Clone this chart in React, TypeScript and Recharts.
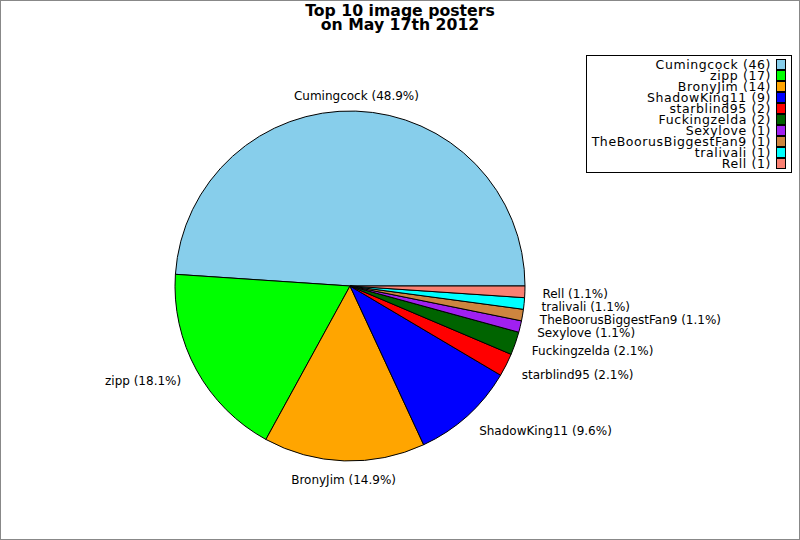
import React from 'react';
import { PieChart, Pie, Cell, Legend } from 'recharts';

const names = ['Cumingcock', 'zipp', 'BronyJim', 'ShadowKing11', 'starblind95', 'Fuckingzelda', 'Sexylove', 'TheBoorusBiggestFan9', 'tralivali', 'Rell'];
const counts = [46, 17, 14, 9, 2, 2, 1, 1, 1, 1];
const colors = ['#87CEEB', '#00FF00', '#FFA500', '#0000FF', '#FF0000', '#006400', '#A020F0', '#CD853F', '#00FFFF', '#FA8072'];
const titleLines = ['Top 10 image posters', 'on May 17th 2012'];

const total = counts.reduce((a, b) => a + b, 0);
const data = names.map((n, i) => ({ name: n, value: counts[i], color: colors[i] }));

const FONT = '"DejaVu Sans", sans-serif';
const RAD = Math.PI / 180;

const renderLabel = (props: any) => {
  const { cx, cy, midAngle, outerRadius, name, value } = props;
  const r = outerRadius * 1.1;
  const c = Math.cos(-midAngle * RAD);
  const s = Math.sin(-midAngle * RAD);
  const x = cx + r * c;
  const y = cy + r * s;
  const anchor = Math.abs(c) < 0.15 ? 'middle' : c > 0 ? 'start' : 'end';
  const pct = ((value / total) * 100).toFixed(1);
  return (
    <text x={x} y={y + 2} textAnchor={anchor} dominantBaseline="central" fontFamily={FONT} fontSize={12} fill="#000">
      {`${name} (${pct}%)`}
    </text>
  );
};

const LegendBox = () => (
  <div style={{ border: '1px solid #000', background: '#fff', width: 206, height: 118, boxSizing: 'border-box', padding: '3px 5px 0 0', fontFamily: FONT, fontSize: 12.5 }}>
    {data.map((d) => (
      <div key={d.name} style={{ display: 'flex', justifyContent: 'flex-end', alignItems: 'center', height: 11, lineHeight: '11px' }}>
        <span style={{ whiteSpace: 'nowrap', letterSpacing: 0.6 }}>{`${d.name} (${d.value})`}</span>
        <span style={{ display: 'inline-block', width: 8, height: 9, background: d.color, border: '1px solid #000', marginLeft: 5 }} />
      </div>
    ))}
  </div>
);

export default function App() {
  return (
    <div style={{ position: 'fixed', left: 0, top: 0, width: 800, height: 540, background: '#fff' }}>
      <div style={{ position: 'absolute', left: 0, top: 0, width: 800, height: 540, boxSizing: 'border-box', border: '1px solid #888', pointerEvents: 'none', zIndex: 2 }} />
      <div style={{ position: 'absolute', left: 0, top: 4, width: 800, textAlign: 'center', fontFamily: FONT, fontWeight: 'bold', fontSize: 15.7, lineHeight: '14px', zIndex: 1 }}>
        {titleLines.map((t) => (
          <div key={t}>{t}</div>
        ))}
      </div>
      <PieChart width={800} height={540} margin={{ top: 0, right: 0, bottom: 0, left: 0 }}>
        <Pie
          data={data}
          dataKey="value"
          nameKey="name"
          cx={350}
          cy={286}
          outerRadius={175}
          startAngle={0}
          endAngle={360}
          stroke="#000"
          strokeWidth={1}
          label={renderLabel}
          labelLine={false}
          isAnimationActive={false}
        >
          {data.map((d) => (
            <Cell key={d.name} fill={d.color} />
          ))}
        </Pie>
        <Legend content={() => <LegendBox />} wrapperStyle={{ position: 'absolute', left: 586, top: 55, width: 206 }} />
      </PieChart>
    </div>
  );
}
